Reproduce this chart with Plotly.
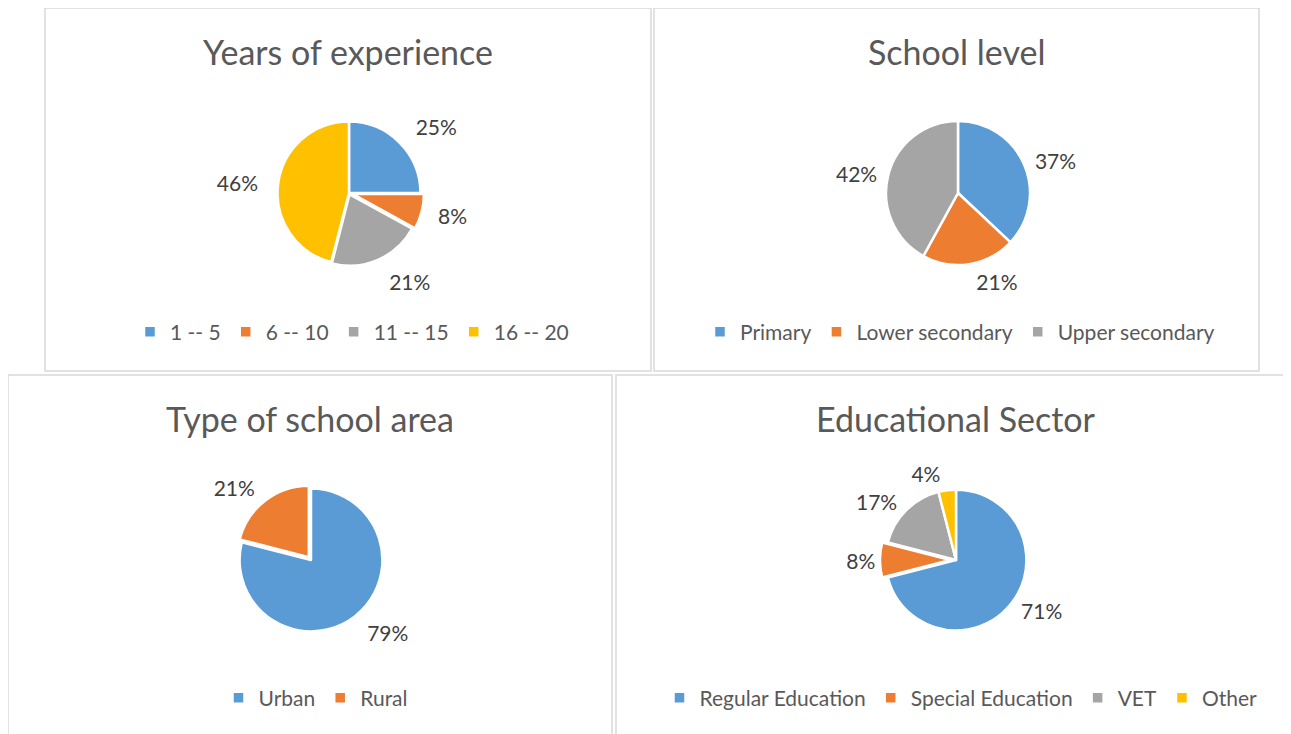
import plotly.graph_objects as go

W, H = 1291, 734
OFF = 8  # page body margin

# data
exp_labels = ['1 -- 5', '6 -- 10', '11 -- 15', '16 -- 20']
exp_values = [25, 8, 21, 46]

level_labels = ['Primary', 'Lower secondary', 'Upper secondary']
level_values = [37, 21, 42]

area_labels = ['Urban', 'Rural']
area_values = [79, 21]

sector_labels = ['Regular Education', 'Special Education', 'VET', 'Other']
sector_values = [71, 8, 17, 4]

colors = ['#5B9BD5', '#ED7D31', '#A5A5A5', '#FFC000']
FONT = 'Lato'


def px_x(x):
    return (x - OFF) / W


def px_y(y):
    return 1 - (y - OFF) / H


def dom(cx, cy, r):
    return dict(x=[px_x(cx - r), px_x(cx + r)], y=[px_y(cy + r), px_y(cy - r)])


def pies(labels, values, cx, cy, r, legend, pull=None, label_gap=10):
    n = len(values)
    pull = pull or [0] * n
    r_vis = r / (1 + max(pull))
    # invisible, slightly larger pie that only carries the percent labels
    text_pie = go.Pie(
        labels=labels, values=values, sort=False, direction='clockwise', rotation=0,
        domain=dom(cx, cy, r_vis + label_gap),
        marker=dict(colors=['rgba(0,0,0,0)'] * n, line=dict(width=0)),
        texttemplate='%{percent:.0%}', textposition='outside',
        outsidetextfont=dict(family=FONT, size=21, color='#404040'),
        showlegend=False, hoverinfo='skip', legend=legend,
    )
    main_pie = go.Pie(
        labels=labels, values=values, sort=False, direction='clockwise', rotation=0,
        pull=pull,
        domain=dom(cx, cy, r),
        marker=dict(colors=colors[:n], line=dict(color='white', width=2.5)),
        textinfo='none',
        legend=legend,
        hoverinfo='label+percent',
    )
    return [text_pie, main_pie]


fig = go.Figure()
fig.add_traces(pies(exp_labels, exp_values, 349, 193, 75, 'legend', [0, 0.05, 0.02, 0], 14))
fig.add_traces(pies(level_labels, level_values, 958, 193, 72, 'legend2', None, 5))
fig.add_traces(pies(area_labels, area_values, 311, 560, 75, 'legend3', [0, 0.05], 10))
fig.add_traces(pies(sector_labels, sector_values, 956, 560, 76, 'legend4', [0, 0.08, 0, 0], 4))

# chart frames
boxes = [(45, 8, 651, 371), (654, 8, 1259, 371), (8, 375, 612, 760), (616, 375, 1320, 760)]
shapes = [dict(type='rect', xref='paper', yref='paper',
               x0=px_x(x0), x1=px_x(x1), y0=px_y(y1), y1=px_y(y0),
               line=dict(color='#D9D9D9', width=1.5))
          for x0, y0, x1, y1 in boxes]

titles = [('Years of experience', 348, 51), ('School level', 956, 51),
          ('Type of school area', 310, 418), ('Educational Sector', 956, 418)]
annotations = [dict(text=t, x=px_x(x), y=px_y(y), xref='paper', yref='paper',
                    showarrow=False, xanchor='center', yanchor='middle',
                    font=dict(family=FONT, size=34, color='#595959'))
               for t, x, y in titles]


def leg(x, y):
    return dict(orientation='h', x=px_x(x), y=px_y(y), xanchor='center', yanchor='middle',
                font=dict(family=FONT, size=21, color='#595959'),
                bgcolor='rgba(0,0,0,0)', traceorder='normal', itemwidth=30)


fig.update_layout(
    width=W, height=H,
    margin=dict(l=0, r=0, t=0, b=0),
    paper_bgcolor='white',
    plot_bgcolor='white',
    showlegend=True,
    shapes=shapes,
    annotations=annotations,
    legend=leg(352, 332),
    legend2=leg(960, 332),
    legend3=leg(316, 698),
    legend4=leg(961, 698),
)

fig.write_html('out.html')
